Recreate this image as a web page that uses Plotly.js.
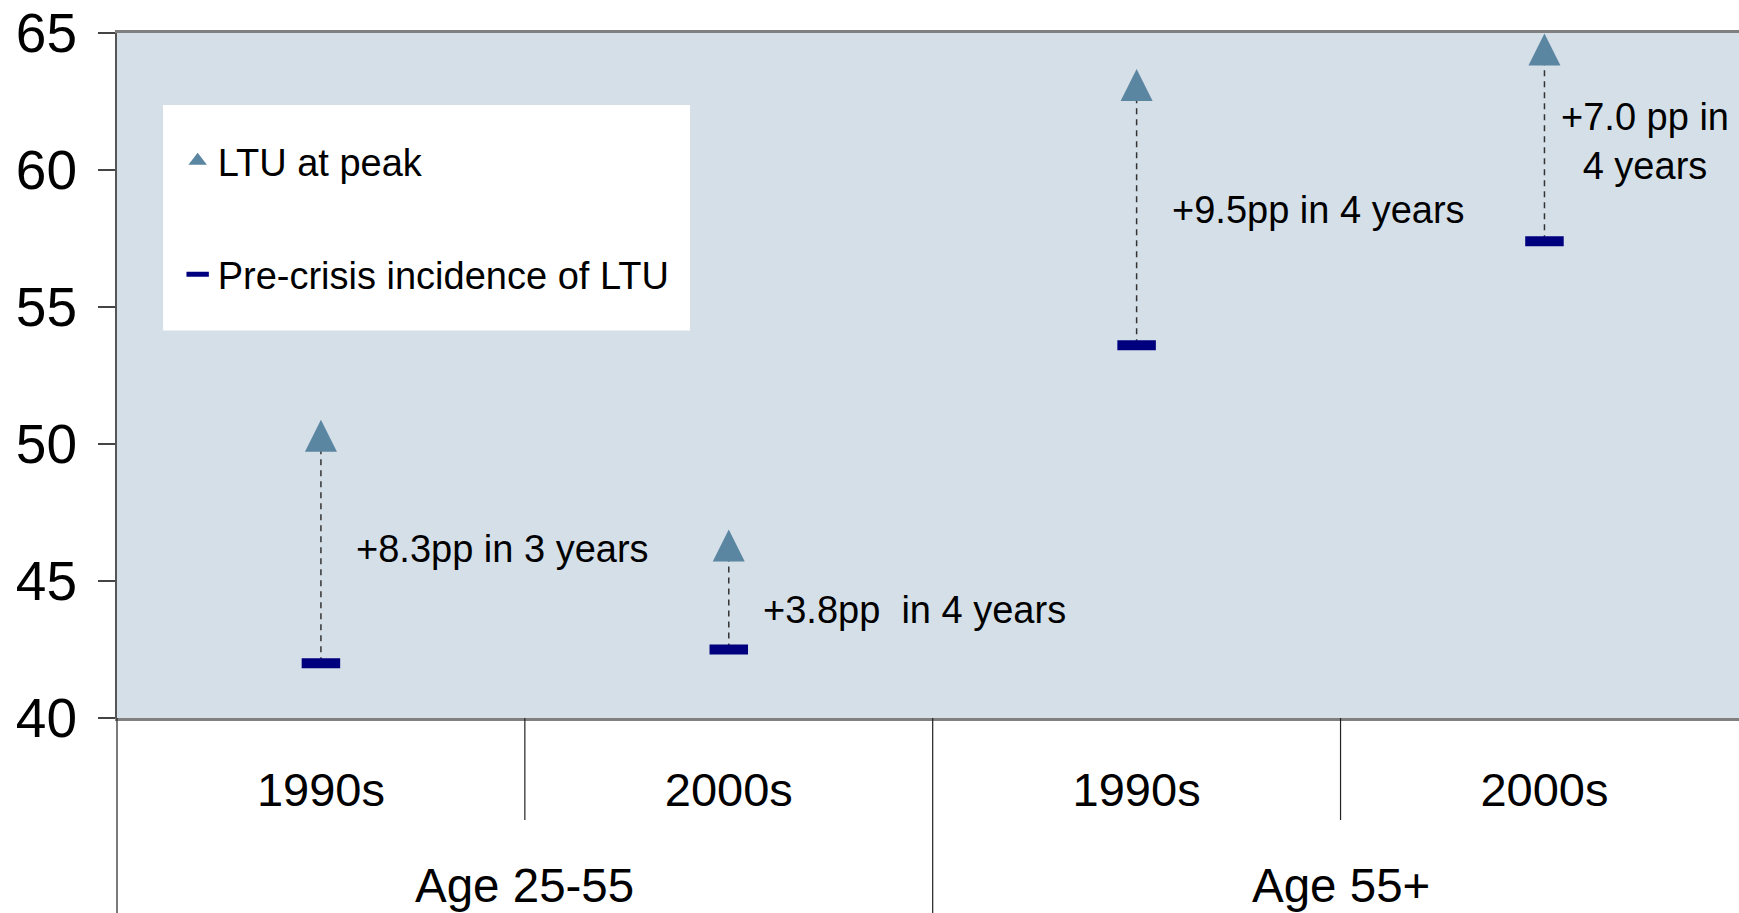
<!DOCTYPE html>
<html>
<head>
<meta charset="utf-8">
<script src="https://cdn.plot.ly/plotly-3.0.1.min.js"></script>
<style>html,body{margin:0;padding:0;background:#fff;}#chart{width:1739px;height:913px;}</style>
</head>
<body>
<div id="chart"></div>
<script>
// ---- data ----
const groups = ['Age 25-55', 'Age 25-55', 'Age 55+', 'Age 55+'];
const decades = ['1990s', '2000s', '1990s', '2000s'];
const preCrisis = [42.0, 42.5, 53.6, 57.4];
const atPeak = [50.3, 46.3, 63.1, 64.4];
const changeLabels = ['+8.3pp in 3 years', '+3.8pp\u00A0 in 4 years', '+9.5pp in 4 years', '+7.0 pp in<br>4 years'];
const groupNames = ['Age 25-55', 'Age 55+'];
const yTicks = [40, 45, 50, 55, 60, 65];

const FONT = 'Liberation Sans, Arial, sans-serif';
const PEAK_COLOR = '#5B86A2';
const PRE_COLOR = '#00007F';
const keys = groups.map((g, i) => g + ' | ' + decades[i]);

// connector x/y built from the data
const cx = [], cy = [];
keys.forEach((k, i) => { cx.push(k, k, null); cy.push(preCrisis[i], atPeak[i], null); });

const traces = [
  {
    x: cx, y: cy, type: 'scatter', mode: 'lines',
    line: {color: '#333333', width: 1.5, dash: '6px,5px'},
    showlegend: false, hoverinfo: 'skip'
  },
  {
    x: keys, y: atPeak, type: 'scatter', mode: 'markers', name: 'LTU at peak',
    legendgroup: 'a', showlegend: false,
    marker: {symbol: 'arrow-down', angle: 180, standoff: 16, size: 32, color: PEAK_COLOR, line: {width: 0}}
  },
  {
    // legend entry for the peak markers (centred symbol in the legend)
    x: [null], y: [null], type: 'scatter', mode: 'markers', name: 'LTU at peak',
    legendgroup: 'a', hoverinfo: 'skip',
    marker: {symbol: 'triangle-up', size: 16, color: PEAK_COLOR, line: {width: 0}}
  },
  {
    x: keys, y: preCrisis, type: 'scatter', mode: 'markers', name: 'Pre-crisis incidence of LTU',
    legendgroup: 'b',
    marker: {symbol: 'line-ew', size: 27.5, color: PRE_COLOR, line: {width: 10, color: PRE_COLOR}}
  }
];

// annotation placement (style)
const annPos = [
  {y: 46.18, xshift: 33, xanchor: 'left', align: 'left'},
  {y: 43.95, xshift: 32, xanchor: 'left', align: 'left'},
  {y: 58.55, xshift: 33, xanchor: 'left', align: 'left'},
  {y: 61.03, xshift: 101, xanchor: 'center', align: 'center'}
];
const annotations = changeLabels.map((t, i) => ({
  x: keys[i], y: annPos[i].y, xref: 'x', yref: 'y', text: t, showarrow: false,
  xanchor: annPos[i].xanchor, yanchor: 'middle', xshift: annPos[i].xshift, align: annPos[i].align,
  font: {family: FONT, size: 38, color: '#000'}
}));
groupNames.forEach((g, gi) => {
  annotations.push({
    x: gi * 2 + 0.5, y: -0.245, xref: 'x', yref: 'paper', text: g, showarrow: false,
    xanchor: 'center', yanchor: 'middle', font: {family: FONT, size: 47.5, color: '#000'}
  });
});

const lineStyle = {color: '#222222', width: 1.2};
const shapes = [
  {type: 'rect', xref: 'paper', yref: 'paper', x0: 0.0284, x1: 0.3533, y0: 0.5657, y1: 0.8949,
   fillcolor: '#FFFFFF', line: {width: 0}, layer: 'below'},
  {type: 'line', xref: 'paper', yref: 'paper', x0: 0, x1: 0, y0: 0, y1: -0.3, line: lineStyle},
  {type: 'line', xref: 'x', yref: 'paper', x0: 0.5, x1: 0.5, y0: 0, y1: -0.149, line: lineStyle},
  {type: 'line', xref: 'x', yref: 'paper', x0: 1.5, x1: 1.5, y0: 0, y1: -0.3, line: lineStyle},
  {type: 'line', xref: 'x', yref: 'paper', x0: 2.5, x1: 2.5, y0: 0, y1: -0.149, line: lineStyle}
];

const layout = {
  width: 1739, height: 913,
  margin: {l: 117, r: 0, t: 33, b: 195},
  paper_bgcolor: '#FFFFFF', plot_bgcolor: '#D5DFE8',
  font: {family: FONT, color: '#000'},
  xaxis: {
    type: 'category', categoryorder: 'array', categoryarray: keys,
    range: [-0.5, 3.477], tickvals: keys, ticktext: decades,
    ticks: '', showgrid: false, zeroline: false,
    showline: true, linecolor: '#808080', linewidth: 3, mirror: true,
    tickfont: {family: FONT, size: 47, color: '#000'}, ticklabelstandoff: 29,
    fixedrange: true
  },
  yaxis: {
    range: [40, 65], tickvals: yTicks, ticks: 'outside', ticklen: 17, tickwidth: 1.5, tickcolor: '#444',
    showgrid: false, zeroline: false, showline: true, linecolor: '#555555', linewidth: 2,
    tickfont: {family: FONT, size: 55, color: '#000'}, ticklabelstandoff: 10,
    fixedrange: true
  },
  showlegend: true,
  legend: {
    x: 0.0374, y: 0.859, xanchor: 'left', yanchor: 'top', bgcolor: 'rgba(0,0,0,0)', borderwidth: 0,
    traceorder: 'grouped', tracegroupgap: 61,
    font: {family: FONT, size: 38, color: '#000'}
  },
  annotations: annotations,
  shapes: shapes
};

Plotly.newPlot('chart', traces, layout, {displayModeBar: false, staticPlot: true});
</script>
</body>
</html>
